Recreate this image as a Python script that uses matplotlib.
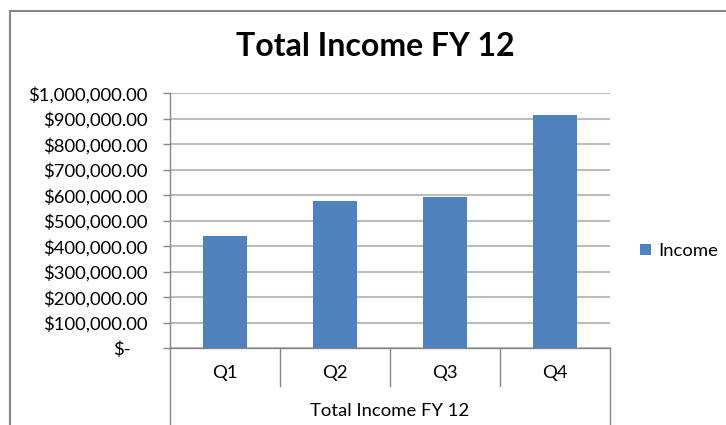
import matplotlib.pyplot as plt
from matplotlib.patches import Rectangle
from matplotlib.transforms import ScaledTranslation

# chart data
quarters = ['Q1', 'Q2', 'Q3', 'Q4']
income = [440000, 576000, 592000, 914000]
group_label = 'Total Income FY 12'
series_name = 'Income'
yticks = [0, 100000, 200000, 300000, 400000, 500000, 600000, 700000, 800000, 900000, 1000000]

bar_color = '#4F81BD'
grid_color = '#BDBDBD'
axis_color = '#868686'
font = 'Lato'

plt.rcParams['font.family'] = font

W, H = 726, 425
fig = plt.figure(figsize=(W / 100, H / 100), dpi=100)
ax = fig.add_axes([170 / W, 1 - 348.3 / H, 440 / W, 255 / H])

x = range(len(quarters))
ax.bar(x, income, width=0.4, color=bar_color, label=series_name, zorder=3)

ax.set_xlim(-0.5, len(quarters) - 0.5)
ax.set_ylim(0, 1000000)

def money(v):
    if v == 0:
        return '$-'
    return '${:,.2f}'.format(v)

ax.set_yticks(yticks)
ax.set_yticklabels([money(v) for v in yticks])
ax.tick_params(axis='y', length=5, width=1, color=axis_color, pad=11,
               labelsize=13.3, labelcolor='#000000')
ax.yaxis.grid(True, color=grid_color, linewidth=1.5, zorder=0)

# accounting style zero sits left of the other labels
zero_lbl = ax.get_yticklabels()[0]
zero_lbl.set_transform(zero_lbl.get_transform() +
                       ScaledTranslation(-0.17, 0, fig.dpi_scale_trans))

ax.set_xticks([])
for s in ['top', 'right']:
    ax.spines[s].set_visible(False)
ax.spines['left'].set_color(axis_color)
ax.spines['bottom'].set_color(axis_color)
ax.spines['left'].set_linewidth(1)
ax.spines['bottom'].set_linewidth(1)

# multi-level category axis
tr = ax.get_xaxis_transform()
for i in range(len(quarters) + 1):
    b = i - 0.5
    y_end = -0.30 if i in (0, len(quarters)) else -0.148
    ax.plot([b, b], [0, y_end], color=axis_color, linewidth=1,
            transform=tr, clip_on=False)
for i, q in enumerate(quarters):
    ax.text(i, -0.097, q, transform=tr, ha='center', va='center', fontsize=13.3)
ax.text((len(quarters) - 1) / 2, -0.246, group_label, transform=tr,
        ha='center', va='center', fontsize=13.3)

# title
fig.text(375 / W, 1 - 46 / H, 'Total Income FY 12', ha='center', va='center',
         fontsize=23, fontweight='bold')

# legend
fig.legend(loc='center left', bbox_to_anchor=(640 / W, 1 - 251 / H),
           frameon=False, fontsize=13.3, handlelength=0.6, handleheight=0.6,
           handletextpad=0.4, borderpad=0, borderaxespad=0)

# chart area border (cropped on right and bottom)
fig.patches.append(Rectangle((10 / W, -0.1), 1.2, 1 - 11 / H + 0.1,
                             transform=fig.transFigure, fill=False,
                             edgecolor=axis_color, linewidth=1.5))

fig.savefig('out.png', dpi=100)
